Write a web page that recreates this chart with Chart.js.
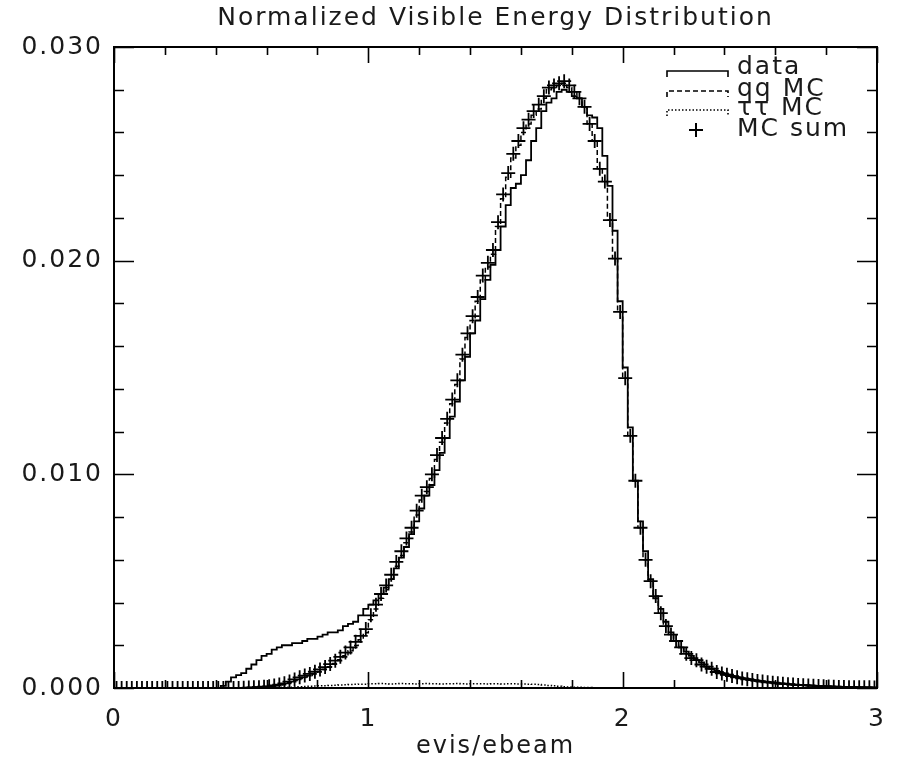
<!DOCTYPE html>
<html><head><meta charset="utf-8">
<script src="https://cdn.jsdelivr.net/npm/chart.js@4.4.1/dist/chart.umd.min.js"></script>
<style>html,body{margin:0;padding:0;background:#fff}#wrap{width:897px;height:761px;position:relative}</style>
</head><body><div id="wrap"><canvas id="c"></canvas></div>
<script>
// Histogram binning: 150 bins of width 0.02 on [0,3]
const binStart = 0, binWidth = 0.02, nBins = 150;
const binCenters = Array.from({length: nBins}, (_, i) => +(binStart + binWidth * (i + 0.5)).toFixed(3));

// data (solid histogram)
const dataVals = [
 0,0,0,0,0,0,0,0,0,0,
 0,0,0,0,0,0,0,0,0,0,
 0,0.0001,0.0003,0.0005,0.0006,0.0007,0.0009,0.0011,0.0013,0.0015,
 0.0016,0.0018,0.0019,0.0020,0.0020,0.0021,0.0021,0.0022,0.0023,0.0023,
 0.0024,0.0025,0.0026,0.0026,0.0027,0.0029,0.0030,0.0031,0.0034,0.0037,
 0.0039,0.0041,0.0044,0.0047,0.0051,0.0056,0.0061,0.0066,0.0072,0.0078,
 0.0084,0.0090,0.0095,0.0102,0.0110,0.0117,0.0127,0.0134,0.0144,0.0155,
 0.0166,0.0172,0.0182,0.0191,0.0198,0.0205,0.0216,0.0226,0.0234,0.0236,
 0.0240,0.0247,0.0256,0.0262,0.0270,0.0274,0.0276,0.0279,0.0280,0.0279,
 0.0277,0.0276,0.0272,0.0268,0.0267,0.0262,0.0249,0.0235,0.0214,0.0181,
 0.0150,0.0122,0.0097,0.0078,0.0064,0.0051,0.0042,0.0037,0.0031,0.0026,
 0.0022,0.0019,0.0017,0.0015,0.0013,0.0012,0.0010,0.0009,0.0008,0.0007,
 0.00063,0.00057,0.00051,0.00046,0.00042,0.00038,0.00034,0.00031,0.00028,0.00025,
 0.00022,0.00020,0.00018,0.00016,0.00015,0.00013,0.00012,0.00011,0.00009,0.00008,
 0.00007,0.00006,0.00006,0.00005,0.00004,0.00004,0.00003,0.00003,0.00002,0.00002
];

// qq MC (dashed histogram)
const qqVals = [
 0,0,0,0,0,0,0,0,0,0,
 0,0,0,0,0,0,0,0,0,0,
 0,0,0,0,0,0.00001,0.00002,0.00003,0.00004,0.00006,
 0.00007,0.00010,0.00014,0.00019,0.00026,0.00035,0.00044,0.00051,0.00058,0.00067,
 0.00077,0.00087,0.00100,0.00115,0.00132,0.00151,0.00174,0.00199,0.00226,0.00258,
 0.0032,0.0037,0.0042,0.0046,0.0051,0.0057,0.0062,0.0068,0.0073,0.0081,
 0.0088,0.0092,0.0098,0.0107,0.0115,0.0124,0.0133,0.0142,0.0154,0.0164,
 0.0172,0.0181,0.0191,0.0197,0.0203,0.0216,0.0229,0.0239,0.0248,0.0254,
 0.0260,0.0264,0.0268,0.0271,0.0276,0.0280,0.0281,0.0282,0.0283,0.0281,
 0.0279,0.0276,0.0272,0.0264,0.0256,0.0243,0.0237,0.0219,0.0201,0.0176,
 0.0145,0.0118,0.0097,0.0075,0.0060,0.0050,0.0043,0.0035,0.0029,0.0025,
 0.0022,0.0019,0.0016,0.0014,0.0013,0.0011,0.0010,0.0009,0.00075,0.00068,
 0.00062,0.00056,0.00050,0.00045,0.00041,0.00037,0.00033,0.00030,0.00027,0.00025,
 0.00022,0.00020,0.00018,0.00016,0.00014,0.00013,0.00012,0.00010,0.00009,0.00008,
 0.00007,0.00006,0.00005,0.00005,0.00004,0.00004,0.00003,0.00003,0.00003,0.00002
];

// tau-tau MC (dotted histogram)
const tauVals = [
 0,0,0,0,0,0,0,0,0,0,
 0,0,0,0,0,0,0,0,0,0,
 0,0,0,0,0,0,0,0,0,0,
 0.00001,0.00002,0.00002,0.00003,0.00004,0.00005,0.00006,0.00007,0.00008,0.00009,
 0.00010,0.00011,0.00012,0.00013,0.00014,0.00015,0.00016,0.00017,0.00018,0.00018,
 0.00020,0.00020,0.00021,0.00020,0.00019,0.00020,0.00021,0.00020,0.00020,0.00019,
 0.00020,0.00021,0.00020,0.00020,0.00019,0.00020,0.00020,0.00021,0.00020,0.00019,
 0.00020,0.00020,0.00020,0.00019,0.00020,0.00020,0.00019,0.00020,0.00020,0.00019,
 0.00019,0.00018,0.00017,0.00016,0.00014,0.00012,0.00010,0.00008,0.00006,0.00005,
 0.00004,0.00003,0.00002,0.00002,0.00001,0,0,0,0,0,
 0,0,0,0,0,0,0,0,0,0,
 0,0,0,0,0,0,0,0,0,0,
 0,0,0,0,0,0,0,0,0,0,
 0,0,0,0,0,0,0,0,0,0,
 0,0,0,0,0,0,0,0,0,0
];

// MC sum (crosses)
const mcSumVals = [
 0,0,0,0,0,0,0,0,0,0,
 0,0,0,0,0,0,0,0,0,0,
 0,0,0,0,0,0.00001,0.00002,0.00003,0.00004,0.00006,
 0.00008,0.00012,0.00016,0.00022,0.00030,0.00040,0.00050,0.00058,0.00066,0.00076,
 0.00087,0.00098,0.00112,0.00128,0.00146,0.00166,0.00190,0.00216,0.00244,0.00276,
 0.0034,0.0039,0.0044,0.0048,0.0053,0.0059,0.0064,0.0070,0.0075,0.0083,
 0.0090,0.0094,0.0100,0.0109,0.0117,0.0126,0.0135,0.0144,0.0156,0.0166,
 0.0174,0.0183,0.0193,0.0199,0.0205,0.0218,0.0231,0.0241,0.0250,0.0256,
 0.0262,0.0266,0.0270,0.0273,0.0277,0.0281,0.0282,0.0283,0.0284,0.0282,
 0.0279,0.0276,0.0272,0.0264,0.0256,0.0243,0.0237,0.0219,0.0201,0.0176,
 0.0145,0.0118,0.0097,0.0075,0.0060,0.0050,0.0043,0.0035,0.0029,0.0025,
 0.0022,0.0019,0.0016,0.0014,0.0013,0.0011,0.0010,0.0009,0.00075,0.00068,
 0.00062,0.00056,0.00050,0.00045,0.00041,0.00037,0.00033,0.00030,0.00027,0.00025,
 0.00022,0.00020,0.00018,0.00016,0.00014,0.00013,0.00012,0.00010,0.00009,0.00008,
 0.00007,0.00006,0.00005,0.00005,0.00004,0.00004,0.00003,0.00003,0.00003,0.00002
];

const xTickLabels = ['0','1','2','3'];
const yTickLabels = ['0.000','0.010','0.020','0.030'];
const legendLabels = ['data','qq MC','ττ MC','MC sum'];
const titleText = 'Normalized Visible Energy Distribution';
const xTitle = 'evis/ebeam';

const FONT = 'DejaVu Sans';
const INK = '#1a1a1a';
const SPACING = '2px';
const pts = vals => binCenters.map((x, i) => ({x, y: vals[i]}));

const spacingPlugin = {
  id: 'spacing',
  beforeDraw(chart) { if ('letterSpacing' in chart.ctx) chart.ctx.letterSpacing = SPACING; },
  afterDraw(chart) { if ('letterSpacing' in chart.ctx) chart.ctx.letterSpacing = '0px'; }
};

const framePlugin = {
  id: 'frame',
  afterDraw(chart) {
    const {ctx, chartArea: a, scales: {x, y}} = chart;
    ctx.save();
    ctx.strokeStyle = '#000';
    ctx.lineWidth = 2;
    ctx.strokeRect(a.left, a.top, a.right - a.left, a.bottom - a.top);
    ctx.lineWidth = 1.6;
    ctx.beginPath();
    // x ticks: minor every 0.2, major every 1
    for (let k = 0; k <= 15; k++) {
      const px = Math.round(x.getPixelForValue(k * 0.2)) + 0.5;
      const L = (k % 5 === 0) ? 16 : 8;
      ctx.moveTo(px, a.bottom); ctx.lineTo(px, a.bottom - L);
      ctx.moveTo(px, a.top); ctx.lineTo(px, a.top + L);
    }
    // y ticks: minor every 0.002, major every 0.010
    for (let k = 0; k <= 15; k++) {
      const py = Math.round(y.getPixelForValue(k * 0.002)) + 0.5;
      const L = (k % 5 === 0) ? 20 : 10;
      ctx.moveTo(a.left, py); ctx.lineTo(a.left + L, py);
      ctx.moveTo(a.right, py); ctx.lineTo(a.right - L, py);
    }
    ctx.stroke();

    // legend
    const lx0 = 667, lx1 = 728, tx = 737;
    const rows = [71, 91, 110, 130];
    const dashes = [[], [5, 3], [1.5, 2], null];
    ctx.lineWidth = 1.6;
    rows.forEach((ry, i) => {
      if (dashes[i]) {
        ctx.setLineDash(dashes[i]);
        ctx.beginPath();
        ctx.moveTo(lx0, ry + 6); ctx.lineTo(lx0, ry); ctx.lineTo(lx1, ry); ctx.lineTo(lx1, ry + 6);
        ctx.stroke();
      } else {
        ctx.setLineDash([]);
        ctx.lineWidth = 2;
        ctx.beginPath();
        ctx.moveTo(689, ry); ctx.lineTo(703, ry);
        ctx.moveTo(696, ry - 7); ctx.lineTo(696, ry + 7);
        ctx.stroke();
      }
    });
    ctx.setLineDash([]);
    ctx.fillStyle = INK;
    ctx.font = '25px "' + FONT + '"';
    if ('letterSpacing' in ctx) ctx.letterSpacing = SPACING;
    ctx.textBaseline = 'middle';
    ctx.textAlign = 'left';
    const ty = [67, 89, 108, 129];
    legendLabels.forEach((t, i) => ctx.fillText(t, tx, ty[i]));
    ctx.restore();
  }
};

new Chart(document.getElementById('c'), {
  type: 'line',
  data: {
    datasets: [
      {label: legendLabels[0], data: pts(dataVals), stepped: 'middle', borderColor: '#000', borderWidth: 1.8, pointRadius: 0, fill: false},
      {label: legendLabels[1], data: pts(qqVals), stepped: 'middle', borderColor: '#000', borderWidth: 1.5, borderDash: [5, 3], pointRadius: 0, fill: false},
      {label: legendLabels[2], data: pts(tauVals), stepped: 'middle', borderColor: '#000', borderWidth: 1.5, borderDash: [1.5, 2], pointRadius: 0, fill: false},
      {label: legendLabels[3], data: pts(mcSumVals), showLine: false, pointStyle: 'cross', pointRadius: 7, pointBorderWidth: 1.8, pointBorderColor: '#000', borderColor: '#000'}
    ]
  },
  options: {
    responsive: true,
    maintainAspectRatio: false,
    animation: false,
    layout: {padding: {left: 0, right: 20, top: 0, bottom: 0}},
    plugins: {
      legend: {display: false},
      tooltip: {enabled: false},
      title: {display: true, fullSize: false, text: titleText, color: INK, font: {family: FONT, size: 25, weight: 'normal'}, padding: {top: 3, bottom: 14}}
    },
    scales: {
      x: {
        type: 'linear', min: 0, max: 3,
        grid: {display: false, drawTicks: false}, border: {display: false},
        afterFit: s => { s.height = 73; s.paddingLeft = 0; s.paddingRight = 0; },
        ticks: {stepSize: 1, padding: 16, color: INK, font: {family: FONT, size: 25}, maxRotation: 0,
          callback: v => (Number.isInteger(v) ? xTickLabels[v] : '')},
        title: {display: true, text: xTitle, color: INK, font: {family: FONT, size: 24}, padding: {top: 0, bottom: 0}}
      },
      y: {
        min: 0, max: 0.03,
        grid: {display: false, drawTicks: false}, border: {display: false},
        afterFit: s => { s.width = 114; s.paddingTop = 0; s.paddingBottom = 0; },
        ticks: {stepSize: 0.01, padding: 11, color: INK, font: {family: FONT, size: 25},
          callback: v => { const k = Math.round(v / 0.01); return Math.abs(v - k * 0.01) < 1e-9 ? yTickLabels[k] : ''; }}
      }
    }
  },
  plugins: [spacingPlugin, framePlugin]
});
</script></body></html>
